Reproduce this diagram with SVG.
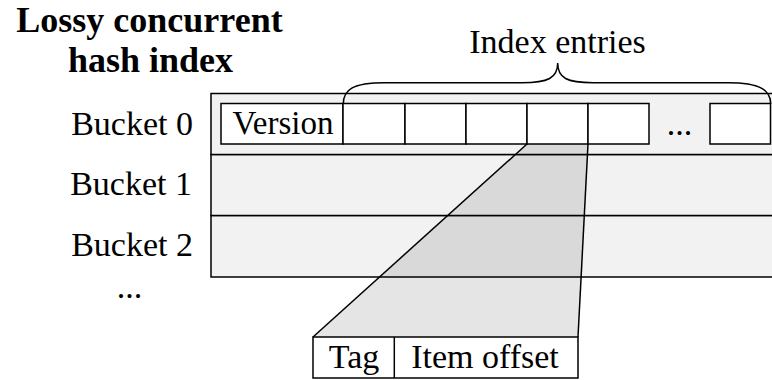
<svg xmlns="http://www.w3.org/2000/svg" width="772" height="380" viewBox="0 0 772 380" font-family="Liberation Serif, serif">
<style>
  text { font-family: 'Liberation Serif', 'Times New Roman', serif; }
  .title { font-weight: bold; font-size: 36px; }
  .lbl { font-size: 34px; }
  .row { fill: #f2f2f2; stroke: #000; stroke-width: 1.5; }
  .cell { fill: #fff; stroke: #000; stroke-width: 1.5; }
  .line { fill: none; stroke: #000; stroke-width: 1.5; }
  .shade { fill: #000; fill-opacity: 0.1; stroke: none; }
</style>
<rect width="772" height="380" fill="#fff"/>
<g id="title">
  <text class="title" style="font-family:'Liberation Serif',serif" x="149.5" y="32" text-anchor="middle">Lossy concurrent</text>
  <text class="title" style="font-family:'Liberation Serif',serif" x="150.5" y="72" text-anchor="middle">hash index</text>
</g>
<g id="labels">
  <text class="lbl" style="font-family:'Liberation Serif',serif" x="193" y="135" text-anchor="end">Bucket 0</text>
  <text class="lbl" style="font-family:'Liberation Serif',serif" x="192" y="195" text-anchor="end">Bucket 1</text>
  <text class="lbl" style="font-family:'Liberation Serif',serif" x="193" y="256" text-anchor="end">Bucket 2</text>
  <text class="lbl" style="font-family:'Liberation Serif',serif" x="129.5" y="298" text-anchor="middle">...</text>
</g>
<g id="bucket2"><rect class="row" x="211" y="215.5" width="570" height="61.5"/></g>
<g id="bucket1"><rect class="row" x="211" y="154.5" width="570" height="61"/></g>
<g id="bucket0">
  <rect class="row" x="211" y="93.5" width="570" height="61"/>
  <rect class="cell" x="221" y="103.5" width="122" height="40.5"/>
  <text class="lbl" style="font-family:'Liberation Serif',serif;font-size:33px" x="283" y="134" text-anchor="middle">Version</text>
  <rect class="cell" x="343" y="103.5" width="62" height="40.5"/>
  <rect class="cell" x="405" y="103.5" width="61" height="40.5"/>
  <rect class="cell" x="466" y="103.5" width="61" height="40.5"/>
  <rect class="cell" x="527" y="103.5" width="61" height="40.5"/>
  <rect class="cell" x="588" y="103.5" width="61" height="40.5"/>
  <text class="lbl" style="font-family:'Liberation Serif',serif" x="679.5" y="135" text-anchor="middle">...</text>
  <rect class="cell" x="710" y="103.5" width="60.5" height="40.5"/>
</g>
<g id="connectors">
  <polygon class="shade" points="527,144 588,144 578,337 313,337"/>
  <line class="line" x1="527" y1="144" x2="313" y2="337"/>
  <line class="line" x1="588" y1="144" x2="578" y2="337"/>
  <path class="line" d="M343.3,104 C343.3,90 352,82.7 385,82.7 L522,82.7 C548,82.7 557.7,78 557.7,63 C557.7,78 567,82.7 593,82.7 L728,82.7 C760,82.7 770.7,90 770.7,104"/>
</g>
<g id="entry">
  <rect class="cell" x="313" y="337" width="265" height="41"/>
  <line class="line" x1="394.3" y1="337" x2="394.3" y2="378"/>
  <text class="lbl" style="font-family:'Liberation Serif',serif" x="354" y="368" text-anchor="middle">Tag</text>
  <text class="lbl" style="font-family:'Liberation Serif',serif" x="485" y="368" text-anchor="middle">Item offset</text>
</g>
<g id="brace-label">
  <text class="lbl" style="font-family:'Liberation Serif',serif" x="557.5" y="53" text-anchor="middle">Index entries</text>
</g>
</svg>
